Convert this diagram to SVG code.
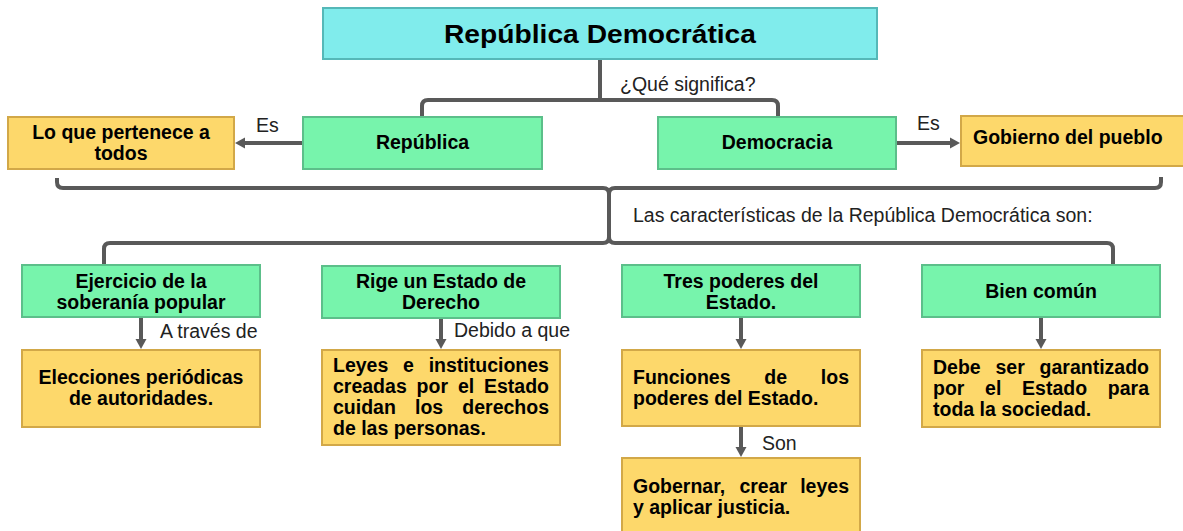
<svg xmlns="http://www.w3.org/2000/svg" width="1183" height="531" viewBox="0 0 1183 531">
<style>
  text { font-family: "Liberation Sans", Arial, sans-serif; fill: #000; }
  .b { font-weight: bold; font-size: 19.5px; }
  .c { text-anchor: middle; }
  .lbl { font-size: 19.5px; fill: #222; }
  .title { font-weight: bold; font-size: 25px; }
  .cyan { fill: #80ECEC; stroke: #55B8B8; stroke-width: 2; }
  .green { fill: #77F4AC; stroke: #5CBF8A; stroke-width: 2; }
  .yellow { fill: #FDD86B; stroke: #D2A848; stroke-width: 2; }
  .con { fill: none; stroke: #595959; stroke-width: 4; }
</style>
<defs>
  <marker id="arr" markerUnits="userSpaceOnUse" markerWidth="11" markerHeight="12" refX="4" refY="6" orient="auto">
    <path d="M0,0.5 L10,6 L0,11.5 z" fill="#595959"/>
  </marker>
</defs>

<g id="connectors">
  <path class="con" d="M600,59 V100"/>
  <path class="con" d="M422,117 V106 Q422,100 428,100 H772 Q778,100 778,106 V117"/>
  <path class="con" d="M303,143 H241" marker-end="url(#arr)"/>
  <path class="con" d="M896,143 H954" marker-end="url(#arr)"/>
  <path class="con" d="M57,178 V182 Q57,188 63,188 H603 Q609,188 609,194 V237 Q609,243 603,243 H110 Q104,243 104,249 V266"/>
  <path class="con" d="M1161,177 V182 Q1161,188 1155,188 H615 Q609,188 609,194"/>
  <path class="con" d="M609,237 Q609,243 615,243 H1107 Q1113,243 1113,249 V266"/>
  <path class="con" d="M141,317 V343" marker-end="url(#arr)"/>
  <path class="con" d="M441,318 V343" marker-end="url(#arr)"/>
  <path class="con" d="M741,317 V343" marker-end="url(#arr)"/>
  <path class="con" d="M1041,317 V343" marker-end="url(#arr)"/>
  <path class="con" d="M741,426 V451" marker-end="url(#arr)"/>
  <text class="lbl" x="620" y="91">¿Qué significa?</text>
  <text class="lbl" x="256" y="131.5">Es</text>
  <text class="lbl" x="917" y="130">Es</text>
  <text class="lbl" x="633" y="222">Las características de la República Democrática son:</text>
  <text class="lbl" x="160" y="338">A través de</text>
  <text class="lbl" x="454" y="337">Debido a que</text>
  <text class="lbl" x="762" y="450">Son</text>
</g>

<g id="n-title">
  <rect class="cyan" x="323" y="8" width="554" height="51"/>
  <text class="title c" x="600" y="42.5" textLength="312" lengthAdjust="spacingAndGlyphs">República Democrática</text>
</g>

<g id="n-republica">
  <rect class="green" x="303" y="117" width="239" height="52"/>
  <text class="b c" x="422.5" y="149">República</text>
</g>

<g id="n-democracia">
  <rect class="green" x="658" y="117" width="238" height="52"/>
  <text class="b c" x="777" y="149">Democracia</text>
</g>

<g id="n-todos">
  <rect class="yellow" x="8" y="117" width="226" height="52"/>
  <text class="b c" x="121" y="139">Lo que pertenece a</text>
  <text class="b c" x="121" y="160">todos</text>
</g>

<g id="n-pueblo">
  <rect class="yellow" x="961" y="116" width="230" height="50"/>
  <text class="b" x="973" y="143.5">Gobierno del pueblo</text>
</g>

<g id="n-ejercicio">
  <rect class="green" x="22" y="265" width="238" height="52"/>
  <text class="b c" x="141" y="287.5">Ejercicio de la</text>
  <text class="b c" x="141" y="308.5">soberanía popular</text>
</g>

<g id="n-rige">
  <rect class="green" x="322" y="266" width="238" height="52"/>
  <text class="b c" x="441" y="288">Rige un Estado de</text>
  <text class="b c" x="441" y="309">Derecho</text>
</g>

<g id="n-tres">
  <rect class="green" x="622" y="265" width="238" height="52"/>
  <text class="b c" x="741" y="287.5">Tres poderes del</text>
  <text class="b c" x="741" y="308.5">Estado.</text>
</g>

<g id="n-bien">
  <rect class="green" x="922" y="265" width="238" height="52"/>
  <text class="b c" x="1041" y="297.5">Bien común</text>
</g>

<g id="n-elecciones">
  <rect class="yellow" x="22" y="350" width="238" height="77"/>
  <text class="b c" x="141" y="383.5">Elecciones periódicas</text>
  <text class="b c" x="141" y="405">de autoridades.</text>
</g>

<g id="n-leyes">
  <rect class="yellow" x="322" y="350" width="238" height="95"/>
  <text class="b" y="371.5"><tspan x="333">Leyes</tspan> <tspan x="403.1">e</tspan> <tspan x="428.7">instituciones</tspan></text>
  <text class="b" y="392.5"><tspan x="333">creadas</tspan> <tspan x="416.6">por</tspan> <tspan x="457.9">el</tspan> <tspan x="484">Estado</tspan></text>
  <text class="b" y="413.5"><tspan x="333">cuidan</tspan> <tspan x="415">los</tspan> <tspan x="462.3">derechos</tspan></text>
  <text class="b" x="333" y="434.5">de las personas.</text>
</g>

<g id="n-funciones">
  <rect class="yellow" x="622" y="350" width="238" height="76"/>
  <text class="b" y="384"><tspan x="633">Funciones</tspan> <tspan x="764.3">de</tspan> <tspan x="820.8">los</tspan></text>
  <text class="b" x="633" y="405">poderes del Estado.</text>
</g>

<g id="n-debe">
  <rect class="yellow" x="922" y="350" width="238" height="77"/>
  <text class="b" y="373.5"><tspan x="933">Debe</tspan> <tspan x="995.5">ser</tspan> <tspan x="1039.6">garantizado</tspan></text>
  <text class="b" y="394.5"><tspan x="933">por</tspan> <tspan x="985.1">el</tspan> <tspan x="1022.1">Estado</tspan> <tspan x="1107.8">para</tspan></text>
  <text class="b" x="933" y="415.5">toda la sociedad.</text>
</g>

<g id="n-gobernar">
  <rect class="yellow" x="622" y="458" width="238" height="80"/>
  <text class="b" y="492.5"><tspan x="633">Gobernar,</tspan> <tspan x="739.4">crear</tspan> <tspan x="800.2">leyes</tspan></text>
  <text class="b" x="633" y="513.5">y aplicar justicia.</text>
</g>
</svg>
